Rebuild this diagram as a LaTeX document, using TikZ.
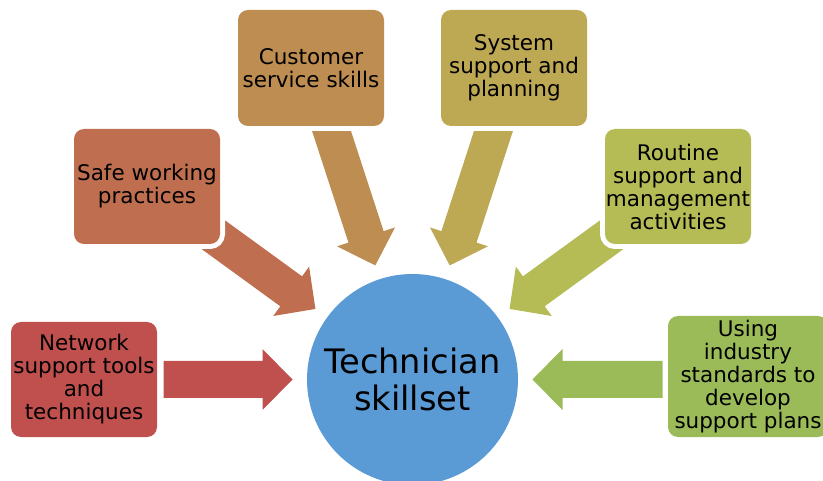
\documentclass[tikz,border=0pt]{standalone}
\usepackage{fontspec}
\setmainfont{DejaVu Sans}
\usetikzlibrary{calc}
\definecolor{cA}{HTML}{C0504D}
\definecolor{cB}{HTML}{BF6F4F}
\definecolor{cC}{HTML}{BE8D52}
\definecolor{cD}{HTML}{BDA854}
\definecolor{cE}{HTML}{B5BC56}
\definecolor{cF}{HTML}{9BBB59}
\definecolor{cHub}{HTML}{5B9BD5}
\tikzset{
  skillbox/.style={rounded corners=10pt, inner sep=0pt, align=center,
    font=\fontsize{21.5}{23}\selectfont, text=black,
    preaction={draw=white, line width=10pt}},
  hub/.style={circle, fill=cHub, minimum size=211pt, inner sep=0pt, align=center,
    font=\fontsize{33.7}{36.3}\selectfont, text=black},
}
\newcommand{\blockarrow}[3]{% tail, tip, colour
  \fill[#3] (#2)
    -- ($($(#2)!30pt!(#1)$)!30.5pt!90:(#2)$)
    -- ($($(#2)!30pt!(#1)$)!18.5pt!90:(#2)$)
    -- ($(#1)!18.5pt!90:(#2)$)
    -- ($(#1)!18.5pt!-90:(#2)$)
    -- ($($(#2)!30pt!(#1)$)!18.5pt!-90:(#2)$)
    -- ($($(#2)!30pt!(#1)$)!30.5pt!-90:(#2)$)
    -- cycle;}
\begin{document}
\begin{tikzpicture}[x=1pt, y=-1pt]
\useasboundingbox (0,0) rectangle (823,481);
\clip (0,0) rectangle (823,481);
% hub
\node[hub] (hub) at (412.5,379.5) {Technician\\skillset};
% box centres (coordinates only, boxes drawn on top later)
\coordinate (pA) at (84,379.5);
\coordinate (pB) at (147,186.5);
\coordinate (pC) at (311,68);
\coordinate (pD) at (514,68);
\coordinate (pE) at (678,186.5);
\coordinate (pF) at (748,376.5);
\coordinate (aF) at (748,379.5);
% tips and tails
\foreach \b in {A,B,C,D,E}{
  \coordinate (tip\b) at ($(hub.center)!120pt!(p\b)$);
}
\coordinate (tipF) at ($(hub.center)!120pt!(aF)$);
\coordinate (tailA) at ($(hub.center)!249pt!(pA)$);
\coordinate (tailF) at ($(hub.center)!250pt!(aF)$);
\coordinate (tailB) at (pB);
\coordinate (tailC) at (pC);
\coordinate (tailD) at (pD);
\coordinate (tailE) at (pE);
\blockarrow{tailA}{tipA}{cA}
\blockarrow{tailB}{tipB}{cB}
\blockarrow{tailC}{tipC}{cC}
\blockarrow{tailD}{tipD}{cD}
\blockarrow{tailE}{tipE}{cE}
\blockarrow{tailF}{tipF}{cF}
% boxes
\node[skillbox, fill=cA, minimum width=146pt, minimum height=115pt] (bA) at (pA) {Network\\support tools\\and\\techniques};
\node[skillbox, fill=cB, minimum width=146pt, minimum height=115pt] (bB) at (pB) {Safe working\\practices};
\node[skillbox, fill=cC, minimum width=146pt, minimum height=116pt] (bC) at (pC) {Customer\\service skills};
\node[skillbox, fill=cD, minimum width=146pt, minimum height=116pt] (bD) at (pD) {System\\support and\\planning};
\node[skillbox, fill=cE, minimum width=146pt, minimum height=115pt] (bE) at (pE) {Routine\\support and\\management\\activities};
\node[skillbox, fill=cF, minimum width=160pt, minimum height=121pt] (bF) at (pF) {Using\\industry\\standards to\\develop\\support plans};
\end{tikzpicture}
\end{document}
